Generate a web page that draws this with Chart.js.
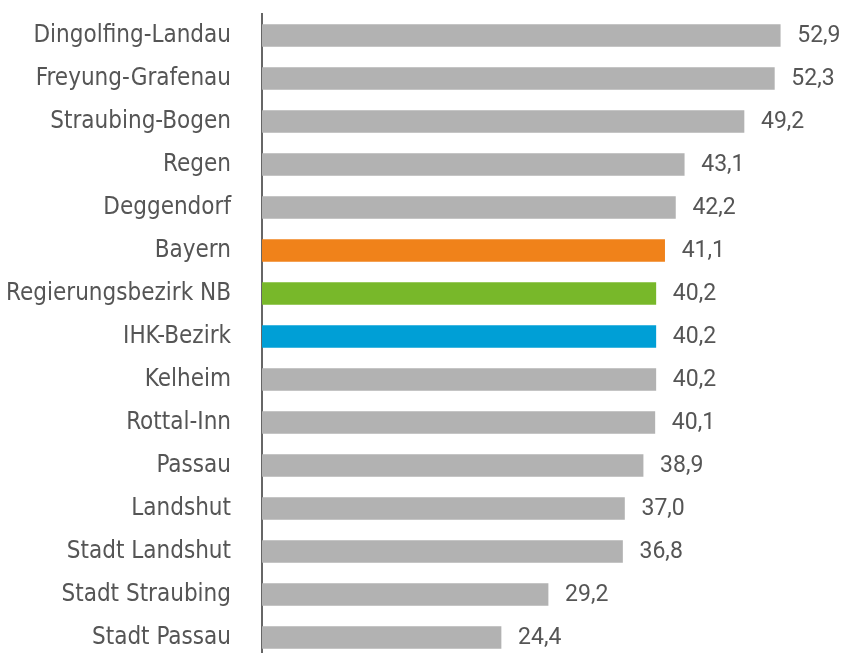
<!DOCTYPE html>
<html lang="de">
<head>
    <meta charset="UTF-8">
    <title>Balkendiagramm</title>
    <script src="https://cdn.jsdelivr.net/npm/chart.js"></script>
    <style>
        html, body {
            margin: 0;
            padding: 0;
            background: #fff;
            overflow: hidden;
        }
        .wrap {
            position: relative;
            width: 846px;
            height: 660px;
        }
    </style>
</head>
<body>
    <div class="wrap">
        <canvas id="chart"></canvas>
    </div>
    <script>
        // Daten
        const regionen = ['Dingolfing-Landau', 'Freyung-Grafenau', 'Straubing-Bogen', 'Regen', 'Deggendorf',
            'Bayern', 'Regierungsbezirk NB', 'IHK-Bezirk', 'Kelheim', 'Rottal-Inn',
            'Passau', 'Landshut', 'Stadt Landshut', 'Stadt Straubing', 'Stadt Passau'];
        const werte = [52.9, 52.3, 49.2, 43.1, 42.2, 41.1, 40.2, 40.2, 40.2, 40.1, 38.9, 37.0, 36.8, 29.2, 24.4];
        const farben = ['#b2b2b2', '#b2b2b2', '#b2b2b2', '#b2b2b2', '#b2b2b2',
            '#f0821a', '#78b82a', '#009fd6', '#b2b2b2', '#b2b2b2',
            '#b2b2b2', '#b2b2b2', '#b2b2b2', '#b2b2b2', '#b2b2b2'];

        // Werte rechts neben die Balken schreiben
        const wertLabels = {
            id: 'wertLabels',
            afterDatasetsDraw(chart) {
                const ctx = chart.ctx;
                const meta = chart.getDatasetMeta(0);
                ctx.save();
                ctx.font = '23px Roboto';
                ctx.fillStyle = '#555555';
                ctx.textAlign = 'left';
                ctx.textBaseline = 'middle';
                meta.data.forEach((bar, i) => {
                    const txt = werte[i].toFixed(1).replace('.', ',');
                    ctx.fillText(txt, bar.x + 17, bar.y + 1);
                });
                ctx.restore();
            }
        };

        new Chart(document.getElementById('chart'), {
            type: 'bar',
            data: {
                labels: regionen,
                datasets: [{
                    data: werte,
                    backgroundColor: farben,
                    barThickness: 22
                }]
            },
            options: {
                indexAxis: 'y',
                responsive: true,
                maintainAspectRatio: false,
                animation: false,
                layout: {
                    padding: { top: 14, right: 6, bottom: 1, left: 0 }
                },
                plugins: {
                    legend: { display: false },
                    tooltip: { enabled: false }
                },
                scales: {
                    x: {
                        display: false,
                        min: 0,
                        max: 59
                    },
                    y: {
                        afterFit(scale) {
                            // feste Breite, kein Extra-Abstand oben/unten
                            scale.width = 262;
                            scale.paddingTop = 0;
                            scale.paddingBottom = 0;
                        },
                        grid: { display: false },
                        border: { display: true, color: '#666666', width: 2 },
                        ticks: {
                            padding: 23,
                            color: '#555555',
                            font: { family: 'DejaVu Sans Condensed', size: 24 }
                        }
                    }
                }
            },
            plugins: [wertLabels]
        });
    </script>
</body>
</html>
